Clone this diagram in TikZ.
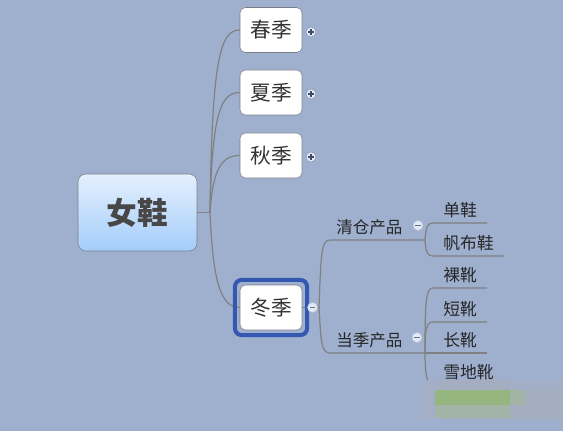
\documentclass[tikz,border=0pt]{standalone}
\usepackage{fontspec}
\setmainfont{Noto Sans CJK SC}
\usetikzlibrary{fit}
\definecolor{mapbg}{RGB}{159,176,206}
\definecolor{linegray}{RGB}{128,128,128}
\definecolor{boxedge}{RGB}{120,126,136}
\definecolor{roottop}{RGB}{228,240,253}
\definecolor{rootbot}{RGB}{164,205,250}
\definecolor{selblue}{RGB}{52,88,178}
\definecolor{txt}{RGB}{51,51,51}
\definecolor{btnfill}{RGB}{226,234,248}
\definecolor{btnedge}{RGB}{140,152,176}
\definecolor{btnsign}{RGB}{62,76,106}
\definecolor{wmgreen}{RGB}{150,182,128}
\definecolor{wmmix}{RGB}{162,180,166}
\definecolor{wmgray}{RGB}{164,174,192}
\tikzset{
  conn/.style={draw=linegray, line width=0.9pt},
  rootbox/.style={draw=boxedge, rounded corners=6pt, top color=roottop, bottom color=rootbot,
    minimum width=89.25pt, minimum height=57.75pt, font=\fontsize{23}{26}\selectfont\bfseries, text=black!72},
  seasonbox/.style={draw=boxedge, fill=white, rounded corners=4pt, minimum width=46.5pt,
    minimum height=33.75pt, font=\fontsize{15.5}{18}\selectfont, text=txt},
  selframe/.style={draw=selblue, line width=3pt, rounded corners=5pt, inner sep=3.6pt},
  cat/.style={anchor=south west, inner xsep=4.5pt, inner ysep=3.5pt, font=\fontsize{12.4}{14}\selectfont, text=black!85},
  leaf/.style={anchor=south west, inner xsep=7.5pt, inner ysep=3.5pt, font=\fontsize{12.6}{14}\selectfont, text=black!85},
  togglebtn/.style={circle, draw=btnedge, line width=0.4pt, fill=btnfill, minimum size=7.5pt, inner sep=0pt},
  plusbtn/.style={togglebtn, path picture={
    \draw[btnsign, line width=0.8pt]
      ([xshift=-2.2pt]path picture bounding box.center) -- ([xshift=2.2pt]path picture bounding box.center)
      ([yshift=-2.2pt]path picture bounding box.center) -- ([yshift=2.2pt]path picture bounding box.center);}},
  minusbtn/.style={togglebtn, draw=btnedge!50!btnfill, path picture={
    \draw[btnsign!80!white, line width=0.8pt]
      ([xshift=-2.2pt]path picture bounding box.center) -- ([xshift=2.2pt]path picture bounding box.center);}}
}
\begin{document}
\begin{tikzpicture}[x=0.75pt,y=-0.75pt]
\fill[mapbg] (0,0) rectangle (563,431);
\useasboundingbox (0,0) rectangle (563,431);

% root and seasons
\node[rootbox] (nx) at (137.5,212.5) {女鞋};
\node[seasonbox] (cj) at (271,30) {春季};
\node[seasonbox] (xj) at (271,92.5) {夏季};
\node[seasonbox] (qj) at (271,155.5) {秋季};
\node[seasonbox] (dj) at (271,307.5) {冬季};

% winter branches
\node[cat] (qc) at (330,240) {清仓产品};
\node[cat] (dq) at (330,353) {当季产品};
\node[leaf] (dx) at (433,223) {单鞋};
\node[leaf] (fbx) at (433,256) {帆布鞋};
\node[leaf] (lx) at (433,288) {裸靴};
\node[leaf] (dux) at (433,322) {短靴};
\node[leaf] (cx) at (433,353) {长靴};
\node[leaf] (xdx) at (433,385) {雪地靴};

\coordinate (rj) at (210,212.5);
\coordinate (djo) at (319,307.5);
\coordinate (jq) at (425,240);
\coordinate (jd) at (425,353);

\draw[conn] (nx.east) -- (rj);
\draw[conn] (rj) .. controls (212,60) and (220,30) .. (cj.west);
\draw[conn] (rj) .. controls (212,112) and (221,92.5) .. (xj.west);
\draw[conn] (rj) .. controls (213,168) and (222,155.5) .. (qj.west);
\draw[conn] (rj) .. controls (213,280) and (220,307.5) .. (dj.west);

\draw[conn] (dj.east) -- (djo);
\draw[conn] (djo) .. controls (321,255) and (321,240) .. (qc.south west) -- (qc.south east) -- (jq);
\draw[conn] (djo) .. controls (321,340) and (321,353) .. (dq.south west) -- (dq.south east) -- (jd);

\draw[conn] (jq) .. controls (426,228) and (427,223) .. (dx.south west) -- (dx.south east);
\draw[conn] (jq) .. controls (426,252) and (427,256) .. (fbx.south west) -- (fbx.south east);
\draw[conn] (jd) .. controls (425,300) and (426,288) .. (lx.south west) -- (lx.south east);
\draw[conn] (jd) .. controls (425,330) and (426,322) .. (dux.south west) -- (dux.south east);
\draw[conn] (jd) -- (cx.south west) -- (cx.south east);
\draw[conn] (jd) .. controls (425,375) and (427,385) .. (xdx.south west) -- (xdx.south east);

% selection frame and toggles
\node[selframe, fit=(dj)] (djsel) {};
\node[plusbtn] (cjb) at (311,32) {};
\node[plusbtn] (xjb) at (311,94) {};
\node[plusbtn] (qjb) at (311,157) {};
\node[minusbtn] (djb) at (312.5,307.5) {};
\node[minusbtn] (qcb) at (418,225.5) {};
\node[minusbtn] (dqb) at (417,337.5) {};

% blurred watermark
\fill[wmgray!60!mapbg] (420,380) rectangle (563,420);
\fill[wmgray] (435,380) rectangle (510,390);
\fill[wmgreen] (435,390) rectangle (510,405);
\fill[wmmix] (510,390) rectangle (525,405);
\fill[wmgray] (525,390) rectangle (563,405);
\fill[wmmix] (435,405) rectangle (510,418);
\fill[wmgray] (510,405) rectangle (563,418);
\end{tikzpicture}
\end{document}
